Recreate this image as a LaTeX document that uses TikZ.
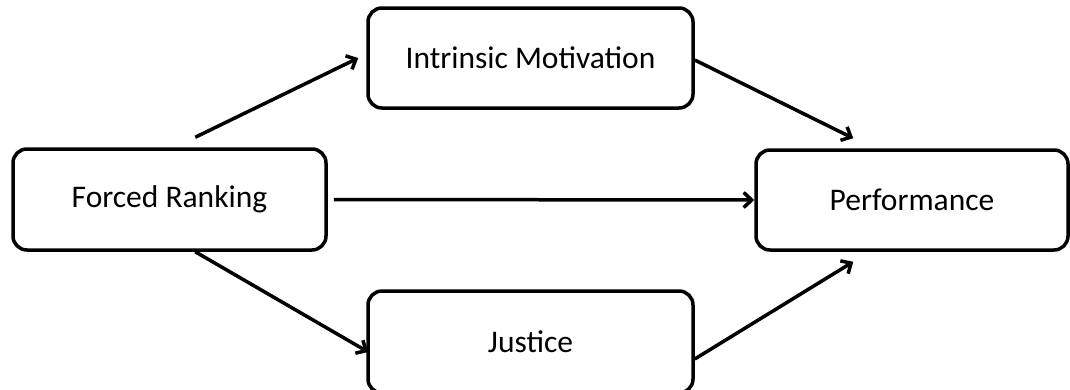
\documentclass[tikz,border=0pt]{standalone}
\usepackage{fontspec}
\setmainfont{Carlito}
\usetikzlibrary{arrows.meta}
\tikzset{
  factor/.style={draw, line width=3.5pt, rounded corners=14pt, fill=white,
    font=\fontsize{31.5}{36}\selectfont, inner sep=0pt}
}
\begin{document}
\begin{tikzpicture}[x=1pt, y=-1pt, >={Straight Barb[length=8pt,width=15pt]}]
\useasboundingbox (0,0) rectangle (1070,389);
\node[factor, minimum width=313pt, minimum height=101pt](fr) at (169.5,199.5) {Forced Ranking};
\node[factor, minimum width=325pt, minimum height=100pt](im) at (530.5,58) {Intrinsic Motivation};
\node[factor, minimum width=325pt, minimum height=102pt](ju) at (530.5,342) {Justice};
\node[factor, minimum width=312pt, minimum height=100pt](pf) at (912,200) {Performance};
% paths
\draw[line width=3.5pt, ->]([xshift=184pt, yshift=10pt]fr.north west)--([xshift=-8pt]im.west);
\draw[line width=3.5pt, ->]([yshift=-2pt]im.east)--([xshift=99pt, yshift=10pt]pf.north west);
\draw[line width=3.5pt, ->]([xshift=6pt]fr.east)--(pf.west);
\draw[line width=3.5pt, ->]([xshift=184pt]fr.south west)--([xshift=2pt, yshift=-10pt]ju.west);
\draw[line width=3.5pt, ->]([yshift=-17pt]ju.east)--([xshift=99pt, yshift=-10pt]pf.south west);
\end{tikzpicture}
\end{document}
